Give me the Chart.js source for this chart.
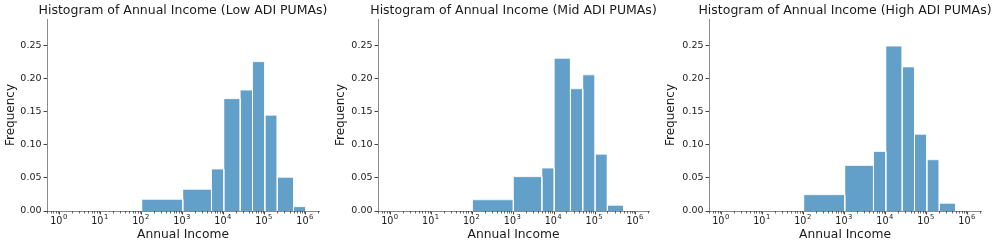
<!DOCTYPE html>
<html>
<head>
<meta charset="utf-8">
<script src="https://cdn.jsdelivr.net/npm/chart.js@4.4.0/dist/chart.umd.min.js"></script>
<style>
body { margin: 0; background: #fff; width: 997px; height: 247px; overflow: hidden; position: relative; }
canvas { position: absolute; top: 0; }
</style>
</head>
<body>
<canvas id="low" width="330" height="247" style="left:0px"></canvas>
<canvas id="mid" width="330" height="247" style="left:330px"></canvas>
<canvas id="high" width="337" height="247" style="left:660px"></canvas>
<script>
// bin edges of the histograms (annual income, dollars)
const binEdges = [100, 1000, 5000, 10000, 25000, 50000, 100000, 200000, 500000, 1000000]
// relative frequency per bin
const lowFreq = [0.0176, 0.0328, 0.0635, 0.170, 0.183, 0.226, 0.145, 0.051, 0.0066]
const midFreq = [0.017, 0.052, 0.065, 0.231, 0.185, 0.206, 0.086, 0.0086, 0]
const highFreq = [0.0247, 0.069, 0.090, 0.2495, 0.218, 0.116, 0.0776, 0.0116, 0]

const xTicks = [1, 10, 100, 1000, 10000, 100000, 1000000]
const yTicks = [0, 0.05, 0.10, 0.15, 0.20, 0.25]
const titles = [
    'Histogram of Annual Income (Low ADI PUMAs)',
    'Histogram of Annual Income (Mid ADI PUMAs)',
    'Histogram of Annual Income (High ADI PUMAs)'
]

const barColor = '#62a0ca'
const edgeColor = 'rgba(255, 255, 255, 0.75)'
const spineColor = '#8a8a8a'
const tickColor = '#444'
const textColor = '#1a1a1a'
const font = 'DejaVu Sans'

// small ticks between the decades, like matplotlib's log axis
const minorTicks = {
    id: 'minorTicks',
    afterDraw(chart) {
        const x = chart.scales.x
        const ctx = chart.ctx
        ctx.save()
        ctx.strokeStyle = tickColor
        ctx.lineWidth = 0.8
        for (let e = -1; e <= 6; e++) {
            for (let k = 2; k <= 9; k++) {
                const v = k * Math.pow(10, e)
                if (v < x.min || v > x.max) continue
                const px = Math.round(x.getPixelForValue(v)) + 0.5
                ctx.beginPath()
                ctx.moveTo(px, x.top)
                ctx.lineTo(px, x.top + 2.5)
                ctx.stroke()
            }
        }
        ctx.restore()
    }
}

// "10" with a raised exponent under each decade, and the title over the axes
const decadeLabels = {
    id: 'decadeLabels',
    afterDraw(chart) {
        const x = chart.scales.x
        const ctx = chart.ctx
        ctx.save()
        ctx.fillStyle = textColor
        ctx.textBaseline = 'alphabetic'
        xTicks.forEach(function (v) {
            const px = x.getPixelForValue(v)
            const exp = String(Math.round(Math.log10(v)))
            ctx.font = '9.6px "' + font + '"'
            const wBase = ctx.measureText('10').width
            ctx.font = '6.8px "' + font + '"'
            const wExp = ctx.measureText(exp).width
            const left = px - (wBase + wExp + 0.5) / 2 - 1
            ctx.font = '9.6px "' + font + '"'
            ctx.textAlign = 'left'
            ctx.fillText('10', left, x.top + 13)
            ctx.font = '6.8px "' + font + '"'
            ctx.fillText(exp, left + wBase + 0.5, x.top + 8)
        })
        const a = chart.chartArea
        ctx.font = '12.5px "' + font + '"'
        ctx.textAlign = 'center'
        ctx.fillText(chart.options.plugins.panelTitle.text, (a.left + a.right) / 2, 14)
        ctx.restore()
    }
}

function makeBars(freq) {
    const sets = []
    for (let i = 0; i < freq.length; i++) {
        const lo = binEdges[i]
        const hi = binEdges[i + 1]
        sets.push({
            data: [{ x: lo, y: 0 }, { x: lo, y: freq[i] }, { x: hi, y: freq[i] }, { x: hi, y: 0 }],
            showLine: true,
            fill: 'origin',
            backgroundColor: barColor,
            borderColor: edgeColor,
            borderWidth: 1,
            pointRadius: 0,
            tension: 0
        })
    }
    return sets
}

function makeChart(id, freq, title, leftWidth, rightPad) {
    return new Chart(document.getElementById(id), {
        type: 'scatter',
        data: { datasets: makeBars(freq) },
        plugins: [minorTicks, decadeLabels],
        options: {
            responsive: false,
            animation: false,
            devicePixelRatio: 1,
            layout: { padding: { left: 0, right: rightPad, top: 19, bottom: 0 } },
            plugins: {
                legend: { display: false },
                tooltip: { enabled: false },
                title: { display: false },
                panelTitle: { text: title }
            },
            scales: {
                x: {
                    type: 'logarithmic',
                    z: 1,
                    min: Math.pow(10, -0.31),
                    max: Math.pow(10, 6.32),
                    afterBuildTicks: function (scale) {
                        scale.ticks = xTicks.map(function (v) { return { value: v } })
                    },
                    afterFit: function (scale) { scale.height = 36 },
                    border: { display: true, color: spineColor, width: 1 },
                    grid: { display: true, drawOnChartArea: false, drawTicks: true, tickLength: 3.5, tickColor: tickColor },
                    ticks: { display: false },
                    title: {
                        display: true,
                        text: 'Annual Income',
                        color: textColor,
                        font: { family: font, size: 12.3 },
                        padding: { top: 0, bottom: 5 }
                    }
                },
                y: {
                    min: 0,
                    max: 0.2905,
                    afterBuildTicks: function (scale) {
                        scale.ticks = yTicks.map(function (v) { return { value: v } })
                    },
                    afterFit: function (scale) { scale.width = leftWidth },
                    border: { display: true, color: spineColor, width: 1 },
                    grid: { display: true, drawOnChartArea: false, drawTicks: true, tickLength: 3.5, tickColor: tickColor },
                    ticks: {
                        padding: 2,
                        color: textColor,
                        font: { family: font, size: 9.5 },
                        callback: function (value) { return value.toFixed(2) }
                    },
                    title: {
                        display: true,
                        text: 'Frequency',
                        color: textColor,
                        font: { family: font, size: 12 },
                        padding: { top: 4, bottom: 0 }
                    }
                }
            }
        }
    })
}

makeChart('low', lowFreq, titles[0], 47, 11)
makeChart('mid', midFreq, titles[1], 48, 11)
makeChart('high', highFreq, titles[2], 49, 16)
</script>
</body>
</html>
